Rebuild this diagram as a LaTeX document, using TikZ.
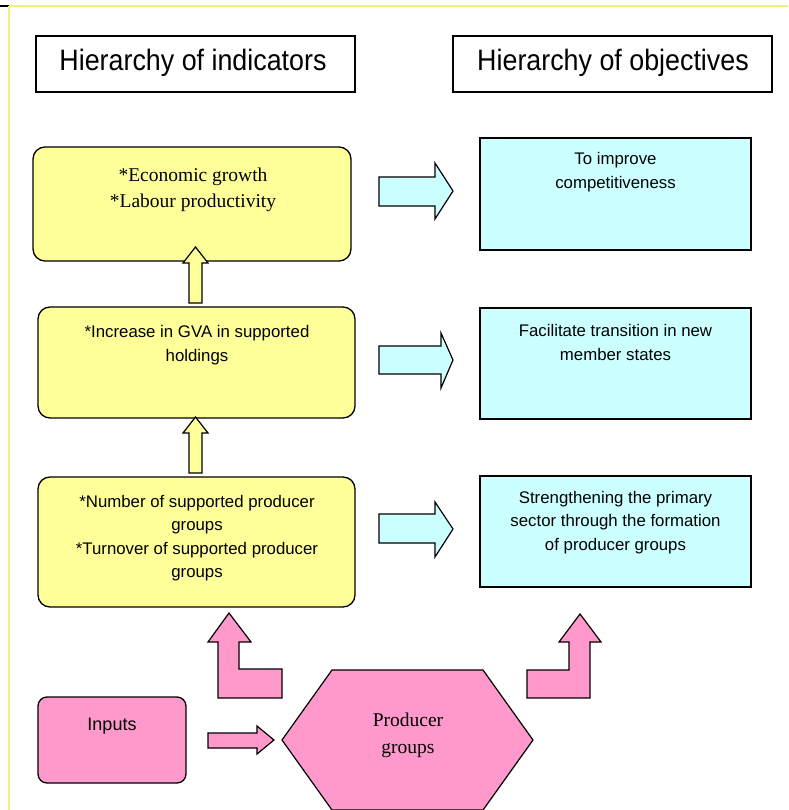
\documentclass[tikz,border=0pt]{standalone}
\usepackage{fontspec}
\setmainfont{Liberation Serif}
\setsansfont{Liberation Sans}
\definecolor{yfill}{HTML}{FFFF99}
\definecolor{cfill}{HTML}{CCFFFF}
\definecolor{pfill}{HTML}{FF99CC}
\definecolor{frameyel}{HTML}{F2F27A}
\begin{document}
\begin{tikzpicture}[x=1pt,y=-1pt,line join=miter,
  titlebox/.style={draw=black,line width=1.2pt,fill=white,minimum width=319pt,minimum height=56pt,inner sep=0pt},
  titletext/.style={font=\sffamily\fontsize{29.5}{32}\selectfont,xscale=0.91},
  ybox/.style={draw=black,line width=1.3pt,fill=yfill,rounded corners=12pt,inner sep=0pt},
  cbox/.style={draw=black,line width=1.3pt,fill=cfill,inner sep=0pt,minimum width=271pt},
  pbox/.style={draw=black,line width=1.3pt,fill=pfill,rounded corners=9pt,inner sep=0pt},
  serif/.style={align=center,font=\rmfamily\fontsize{19.5}{26.5}\selectfont},
  sans/.style={align=center,font=\sffamily\fontsize{16.8}{23.5}\selectfont},
  yarrow/.style={draw=black,line width=1.2pt,fill=yfill},
  carrow/.style={draw=black,line width=1.2pt,fill=cfill},
  parrow/.style={draw=black,line width=1.2pt,fill=pfill}]
\useasboundingbox (0,0) rectangle (788,810);
% frame lines
\draw[line width=1.5pt,black] (0,6) -- (9,6);
\draw[line width=1.3pt,frameyel] (9,6) -- (788,6);
\draw[line width=1.3pt,frameyel] (9,6) -- (9,810);
% titles
\node[titlebox] (th1) at (195.5,64) {};
\node[titletext] (tt1) at (193,63) {Hierarchy of indicators};
\node[titlebox] (th2) at (612.5,64) {};
\node[titletext] (tt2) at (613,63) {Hierarchy of objectives};
% indicator boxes
\node[ybox,minimum width=318pt,minimum height=114pt] (i1) at (192,204) {};
\node[serif] (i1t) at (193,190) {*Economic growth\\*Labour productivity};
\node[ybox,minimum width=317pt,minimum height=111pt] (i2) at (196.5,362.5) {};
\node[sans] (i2t) at (197,345) {*Increase in GVA in supported\\holdings};
\node[ybox,minimum width=317pt,minimum height=130pt] (i3) at (196.5,542) {};
\node[sans] (i3t) at (197,538) {*Number of supported producer\\groups\\*Turnover of supported producer\\groups};
% objective boxes
\node[cbox,minimum height=112pt] (o1) at (615.5,194) {};
\node[sans] (o1t) at (615.5,172) {To improve\\competitiveness};
\node[cbox,minimum height=111pt] (o2) at (615.5,363.5) {};
\node[sans] (o2t) at (615.5,342.5) {Facilitate transition in new\\member states};
\node[cbox,minimum height=111pt] (o3) at (615.5,531.5) {};
\node[sans] (o3t) at (615.5,522.5) {Strengthening the primary\\sector through the formation\\of producer groups};
% yellow up arrows
\draw[yarrow] (189,303) -- (189,263) -- (183,263) -- (195.5,247) -- (208,263) -- (202,263) -- (202,303) -- cycle;
\draw[yarrow] (189,473) -- (189,433) -- (183,433) -- (195.5,417) -- (208,433) -- (202,433) -- (202,473) -- cycle;
% cyan right arrows
\draw[carrow] (379,177) -- (435,177) -- (435,163) -- (453,191) -- (435,219) -- (435,206) -- (379,206) -- cycle;
\draw[carrow] (379,346) -- (441,346) -- (441,333) -- (453,360) -- (441,388) -- (441,374) -- (379,374) -- cycle;
\draw[carrow] (379,514) -- (435,514) -- (435,502) -- (453,529) -- (435,557) -- (435,543) -- (379,543) -- cycle;
% pink L arrows
\draw[parrow] (218,642) -- (208,642) -- (229,613) -- (251,642) -- (239,642) -- (239,669) -- (282,669) -- (282,698) -- (218,698) -- cycle;
\draw[parrow] (527,670) -- (569,670) -- (569,642) -- (559,642) -- (580,614) -- (601,642) -- (590,642) -- (590,698) -- (527,698) -- cycle;
% inputs
\node[pbox,minimum width=148pt,minimum height=86pt] (inp) at (112,740) {};
\node[sans,font=\sffamily\fontsize{18}{22}\selectfont] (inpt) at (112,726) {Inputs};
\draw[parrow] (208,733) -- (257,733) -- (257,726) -- (274,740) -- (257,754) -- (257,748) -- (208,748) -- cycle;
% producer groups hexagon
\draw[parrow] (282,740) -- (332,670) -- (483,670) -- (533,740) -- (483,810) -- (332,810) -- cycle;
\node[serif,font=\rmfamily\fontsize{19.5}{27}\selectfont] (prod) at (408,735) {Producer\\groups};
\end{tikzpicture}
\end{document}
